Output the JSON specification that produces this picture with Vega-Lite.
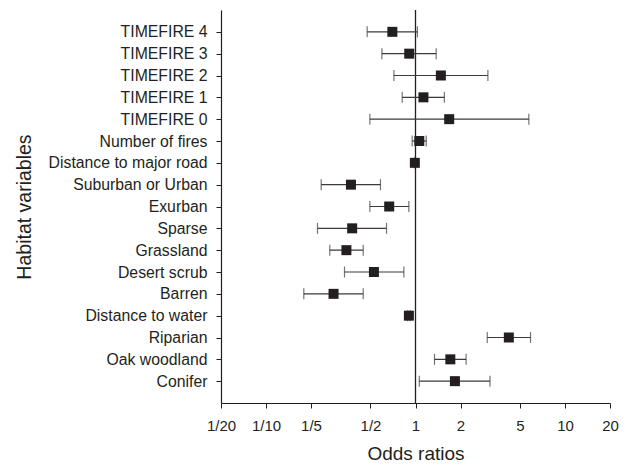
{
  "$schema": "https://vega.github.io/schema/vega-lite/v6.json",
  "autosize": {"type": "none"},
  "padding": {"left": 221, "top": 10, "right": 23, "bottom": 69},
  "width": 389,
  "height": 393,
  "config": {
    "view": {"stroke": null},
    "font": "Liberation Sans",
    "axis": {"labelFont": "Liberation Sans", "titleFont": "Liberation Sans", "labelColor": "#231f20", "titleColor": "#231f20", "domainColor": "#231f20", "tickColor": "#231f20", "titleFontWeight": "normal", "grid": false}
  },
  "data": {
    "values": [
      {"variable": "TIMEFIRE 4", "or": 0.70, "lo": 0.475, "hi": 1.03},
      {"variable": "TIMEFIRE 3", "or": 0.908, "lo": 0.596, "hi": 1.375},
      {"variable": "TIMEFIRE 2", "or": 1.478, "lo": 0.717, "hi": 3.05},
      {"variable": "TIMEFIRE 1", "or": 1.13, "lo": 0.815, "hi": 1.56},
      {"variable": "TIMEFIRE 0", "or": 1.68, "lo": 0.495, "hi": 5.73},
      {"variable": "Number of fires", "or": 1.06, "lo": 0.95, "hi": 1.18},
      {"variable": "Distance to major road", "or": 0.99, "lo": 0.985, "hi": 0.995},
      {"variable": "Suburban or Urban", "or": 0.37, "lo": 0.234, "hi": 0.583},
      {"variable": "Exurban", "or": 0.667, "lo": 0.495, "hi": 0.903},
      {"variable": "Sparse", "or": 0.377, "lo": 0.221, "hi": 0.64},
      {"variable": "Grassland", "or": 0.345, "lo": 0.267, "hi": 0.447},
      {"variable": "Desert scrub", "or": 0.527, "lo": 0.335, "hi": 0.836},
      {"variable": "Barren", "or": 0.283, "lo": 0.179, "hi": 0.447},
      {"variable": "Distance to water", "or": 0.903, "lo": 0.885, "hi": 0.92},
      {"variable": "Riparian", "or": 4.21, "lo": 3.02, "hi": 5.88},
      {"variable": "Oak woodland", "or": 1.71, "lo": 1.34, "hi": 2.18},
      {"variable": "Conifer", "or": 1.835, "lo": 1.06, "hi": 3.15}
    ]
  },
  "encoding": {
    "y": {
      "field": "variable",
      "type": "nominal",
      "sort": ["TIMEFIRE 4", "TIMEFIRE 3", "TIMEFIRE 2", "TIMEFIRE 1", "TIMEFIRE 0", "Number of fires", "Distance to major road", "Suburban or Urban", "Exurban", "Sparse", "Grassland", "Desert scrub", "Barren", "Distance to water", "Riparian", "Oak woodland", "Conifer"],
      "scale": {"type": "point", "padding": 1},
      "axis": {"title": "Habitat variables", "titleFontSize": 19.5, "labelFontSize": 15.8, "tickSize": 5, "labelPadding": 9, "titlePadding": 14, "domainWidth": 1.2}
    }
  },
  "layer": [
    {
      "data": {"values": [{"ref": 1}]},
      "mark": {"type": "rule", "color": "#231f20", "strokeWidth": 1.3},
      "encoding": {
        "x": {"field": "ref", "type": "quantitative", "scale": {"type": "log", "domain": [0.05, 20], "nice": false},
          "axis": {"title": "Odds ratios", "titleFontSize": 19, "labelFontSize": 15, "tickSize": 5, "labelPadding": 10, "titlePadding": 11, "labelFlush": false, "values": [0.05, 0.1, 0.2, 0.5, 1, 2, 5, 10, 20], "labelExpr": "datum.value < 1 ? '1/' + round(1/datum.value) : datum.value", "domainWidth": 1.2}},
        "y": {"value": 0},
        "y2": {"value": 393}
      }
    },
    {
      "mark": {"type": "rule", "color": "#3a3a3a", "strokeWidth": 1.2},
      "encoding": {
        "x": {"field": "lo", "type": "quantitative"},
        "x2": {"field": "hi"}
      }
    },
    {
      "mark": {"type": "tick", "color": "#3a3a3a", "thickness": 1.2, "size": 11, "orient": "vertical"},
      "encoding": {"x": {"field": "lo", "type": "quantitative"}}
    },
    {
      "mark": {"type": "tick", "color": "#3a3a3a", "thickness": 1.2, "size": 11, "orient": "vertical"},
      "encoding": {"x": {"field": "hi", "type": "quantitative"}}
    },
    {
      "mark": {"type": "square", "color": "#231f20", "size": 100, "opacity": 1, "filled": true},
      "encoding": {"x": {"field": "or", "type": "quantitative"}}
    }
  ]
}
